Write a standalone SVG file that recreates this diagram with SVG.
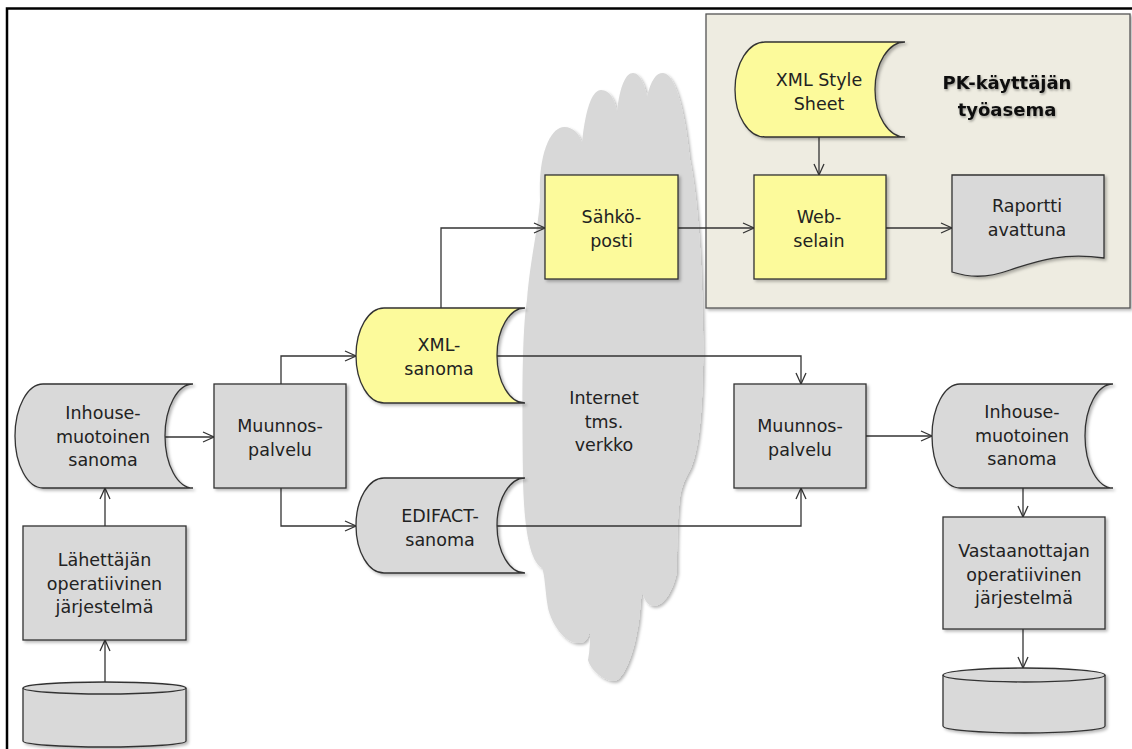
<svg xmlns="http://www.w3.org/2000/svg" width="1132" height="749" viewBox="0 0 1132 749">
<style>
.t{font-family:"DejaVu Sans","Verdana",sans-serif;font-size:17.5px;fill:#222;text-anchor:middle}
.title{font-family:"DejaVu Sans","Verdana",sans-serif;font-size:18px;font-weight:bold;fill:#111;text-anchor:middle}
.g{fill:#d9d9d9;stroke:#333;stroke-width:1.3}
.y{fill:#fcfa9b;stroke:#333;stroke-width:1.3}
.c{fill:none;stroke:#333;stroke-width:1.3}
</style>
<defs>
<marker id="arr" markerUnits="userSpaceOnUse" markerWidth="14" markerHeight="14" refX="12" refY="6" orient="auto">
<path d="M1,1 L12,6 L1,11" fill="none" stroke="#333" stroke-width="1.3"/>
</marker>
<filter id="sh" x="-10%" y="-10%" width="130%" height="130%">
<feDropShadow dx="2" dy="2" stdDeviation="1.5" flood-color="#000" flood-opacity="0.28"/>
</filter>
<filter id="tsh" x="-10%" y="-30%" width="120%" height="160%">
<feDropShadow dx="1" dy="1.5" stdDeviation="1.2" flood-color="#000" flood-opacity="0.35"/>
</filter>
</defs>
<rect width="1132" height="749" fill="#fff"/>
<path d="M7,749 L7,8.5 L1132,8.5" fill="none" stroke="#000" stroke-width="2.5"/>
<g id="cloud">
<path filter="url(#sh)" fill="#d8d8d8" d="M540,200 C538,150 552,127 564,127 C574,127 580,135 582,143 C586,105 593,90 601,90 C610,90 615,100 617,112 C620,85 626,73 633,73 C640,73 645,85 647,97 C651,80 656,73 663,73 C675,73 685,110 690,160 C698,200 702,260 703,330 C704,400 700,450 690,470 C684,480 681,490 680,497 C677,520 677,550 677,572 C672,595 662,606 654,606 C648,606 644,600 642,591 C640,605 640,620 637,632 C632,660 622,681 614,681 C602,681 590,668 588,660 C590,650 590,640 590,630 C588,640 585,643 578,643 C565,643 552,625 548,608 C545,590 545,575 542,568 C528,560 524,520 523,480 C522,400 522,330 527,300 C530,260 538,230 540,200 Z"/>
<text class="t" x="604" y="404">Internet</text>
<text class="t" x="604" y="427.5">tms.</text>
<text class="t" x="604" y="451">verkko</text>
</g>
<g id="panel">
<rect x="706" y="14" width="424" height="294" fill="#eeece1" stroke="#555" stroke-width="1.3" filter="url(#sh)"/>
<g filter="url(#tsh)">
<text class="title" x="1007" y="89">PK-käyttäjän</text>
<text class="title" x="1007" y="116">työasema</text>
</g>
</g>
<g id="connectors">
<path class="c" marker-end="url(#arr)" d="M105,682 L105,640"/>
<path class="c" marker-end="url(#arr)" d="M105,526 L105,488"/>
<path class="c" marker-end="url(#arr)" d="M165,437 L214,437"/>
<path class="c" marker-end="url(#arr)" d="M281,384 L281,356 L356,356"/>
<path class="c" marker-end="url(#arr)" d="M281,488 L281,526 L356,526"/>
<path class="c" marker-end="url(#arr)" d="M441,308 L441,228 L545,228"/>
<path class="c" marker-end="url(#arr)" d="M678,228 L754,228"/>
<path class="c" marker-end="url(#arr)" d="M819,137 L819,175"/>
<path class="c" marker-end="url(#arr)" d="M886,228 L952,228"/>
<path class="c" marker-end="url(#arr)" d="M497,356 L801,356 L801,384"/>
<path class="c" marker-end="url(#arr)" d="M497,526 L801,526 L801,488"/>
<path class="c" marker-end="url(#arr)" d="M866,436 L932,436"/>
<path class="c" marker-end="url(#arr)" d="M1023,488 L1023,517"/>
<path class="c" marker-end="url(#arr)" d="M1023,629 L1023,668"/>
</g>
<g id="inhouse-left">
<path class="g" filter="url(#sh)" d="M43,384 L193,384 A28 52 0 0 0 193,488 L43,488 A28 52 0 0 1 43,384 Z"/>
<text class="t" x="103" y="419">Inhouse-</text>
<text class="t" x="103" y="443">muotoinen</text>
<text class="t" x="103" y="466">sanoma</text>
</g>
<g id="muunnos-left">
<rect class="g" filter="url(#sh)" x="214" y="384" width="132" height="104"/>
<text class="t" x="280" y="432">Muunnos-</text>
<text class="t" x="280" y="455.5">palvelu</text>
</g>
<g id="lahettaja">
<rect class="g" filter="url(#sh)" x="23" y="526" width="163" height="114"/>
<text class="t" x="104.5" y="566">Lähettäjän</text>
<text class="t" x="104.5" y="589.5">operatiivinen</text>
<text class="t" x="104.5" y="613">järjestelmä</text>
</g>
<g id="db-left">
<path class="g" filter="url(#sh)" d="M23,688 L23,741 A81.5 6 0 0 0 186,741 L186,688 A81.5 6 0 0 0 23,688 Z"/>
<path class="c" d="M23,688 A81.5 6 0 0 0 186,688"/>
</g>
<g id="xml-sanoma">
<path class="y" filter="url(#sh)" d="M384,308 L525,308 A28 47.5 0 0 0 525,403 L384,403 A28 47.5 0 0 1 384,308 Z"/>
<text class="t" x="439" y="351">XML-</text>
<text class="t" x="439" y="374.5">sanoma</text>
</g>
<g id="edifact">
<path class="g" filter="url(#sh)" d="M384,478 L525,478 A28 47.5 0 0 0 525,573 L384,573 A28 47.5 0 0 1 384,478 Z"/>
<text class="t" x="440" y="522">EDIFACT-</text>
<text class="t" x="440" y="545.5">sanoma</text>
</g>
<g id="sahkoposti">
<rect class="y" filter="url(#sh)" x="545" y="175" width="133" height="104"/>
<text class="t" x="611.5" y="223">Sähkö-</text>
<text class="t" x="611.5" y="246.5">posti</text>
</g>
<g id="xml-style-sheet">
<path class="y" filter="url(#sh)" d="M765,42 L905,42 A30 47.5 0 0 0 905,137 L765,137 A30 47.5 0 0 1 765,42 Z"/>
<text class="t" x="819" y="86">XML Style</text>
<text class="t" x="819" y="109.5">Sheet</text>
</g>
<g id="web-selain">
<rect class="y" filter="url(#sh)" x="754" y="175" width="132" height="104"/>
<text class="t" x="819" y="223">Web-</text>
<text class="t" x="819" y="246.5">selain</text>
</g>
<g id="raportti">
<path class="g" filter="url(#sh)" d="M952,175 L1104,175 L1104,258 C1060,252 1035,262 1010,270 C985,279 968,277 952,272 Z"/>
<text class="t" x="1027" y="212">Raportti</text>
<text class="t" x="1027" y="235.5">avattuna</text>
</g>
<g id="muunnos-right">
<rect class="g" filter="url(#sh)" x="734" y="384" width="132" height="104"/>
<text class="t" x="800" y="432">Muunnos-</text>
<text class="t" x="800" y="455.5">palvelu</text>
</g>
<g id="inhouse-right">
<path class="g" filter="url(#sh)" d="M960,384 L1113,384 A28 52 0 0 0 1113,488 L960,488 A28 52 0 0 1 960,384 Z"/>
<text class="t" x="1022" y="418">Inhouse-</text>
<text class="t" x="1022" y="442">muotoinen</text>
<text class="t" x="1022" y="465">sanoma</text>
</g>
<g id="vastaanottaja">
<rect class="g" filter="url(#sh)" x="943" y="517" width="162" height="112"/>
<text class="t" x="1024" y="557">Vastaanottajan</text>
<text class="t" x="1024" y="580.5">operatiivinen</text>
<text class="t" x="1024" y="604">järjestelmä</text>
</g>
<g id="db-right">
<path class="g" filter="url(#sh)" d="M943,675 L943,726 A81 7 0 0 0 1105,726 L1105,675 A81 7 0 0 0 943,675 Z"/>
<path class="c" d="M943,675 A81 7 0 0 0 1105,675"/>
</g>
</svg>
